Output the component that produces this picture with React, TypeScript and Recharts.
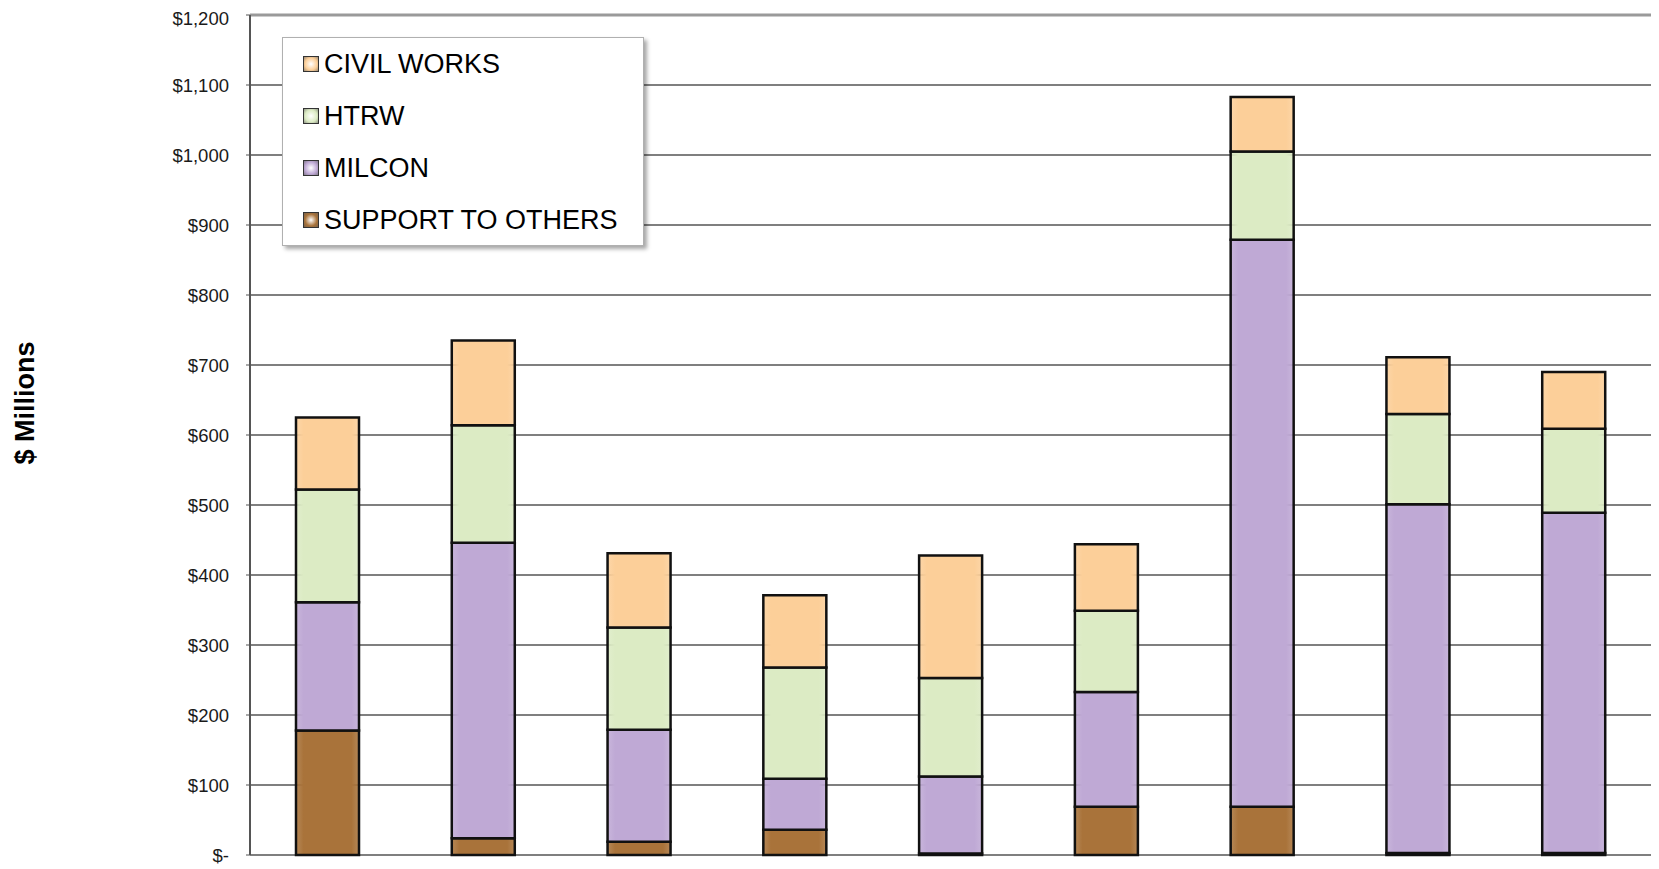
import React from "react";
import {
  BarChart,
  Bar,
  XAxis,
  YAxis,
  CartesianGrid,
  Legend,
  ReferenceLine,
  Label,
} from "recharts";

// categories (no labels shown on the original chart)
const categories = ["1", "2", "3", "4", "5", "6", "7", "8", "9"];

// $ millions
const supportToOthers = [178, 24, 19, 36, 2, 69, 69, 3, 3];
const milcon = [183, 422, 160, 73, 110, 164, 810, 498, 486];
const htrw = [161, 168, 146, 159, 141, 116, 126, 129, 120];
const civilWorks = [103, 121, 106, 103, 175, 95, 78, 81, 81];

const yTicks = [0, 100, 200, 300, 400, 500, 600, 700, 800, 900, 1000, 1100, 1200];

const series = [
  { key: "sto", name: "SUPPORT TO OTHERS", color: "#A9733A", values: supportToOthers },
  { key: "milcon", name: "MILCON", color: "#BFA9D5", values: milcon },
  { key: "htrw", name: "HTRW", color: "#DCEBC4", values: htrw },
  { key: "cw", name: "CIVIL WORKS", color: "#FCCF99", values: civilWorks },
];

const data = categories.map((name, i) => {
  const row: any = { name };
  series.forEach((s) => {
    row[s.key] = s.values[i];
  });
  return row;
});

const fmt = (v: number) => (v === 0 ? "$-" : "$" + v.toLocaleString("en-US"));

const renderLegend = () => (
  <div
    style={{
      background: "#fff",
      border: "1px solid #b0b0b0",
      boxShadow: "3px 3px 4px rgba(0,0,0,0.35)",
      width: 362,
      height: 209,
      boxSizing: "border-box",
      paddingTop: 0,
      paddingLeft: 20,
      fontFamily: "'Liberation Sans', Arial, sans-serif",
      fontSize: 27,
      color: "#000",
    }}
  >
    {[...series].reverse().map((s) => (
      <div key={s.key} style={{ display: "flex", alignItems: "center", height: 52 }}>
        <span
          style={{
            display: "inline-block",
            width: 14,
            height: 14,
            marginRight: 5,
            border: "1.5px solid #333",
            background: `radial-gradient(circle, #fff 0%, ${s.color} 60%, #555 130%)`,
          }}
        />
        <span>{s.name}</span>
      </div>
    ))}
  </div>
);

export default function App() {
  return (
    <BarChart
      width={1651}
      height={860}
      data={data}
      margin={{ top: 7, right: 7, left: 0, bottom: 13 }}
      style={{ fontFamily: "'Liberation Sans', Arial, sans-serif" }}
    >
      <defs>
        {series.map((s) => (
          <linearGradient key={s.key} id={"g-" + s.key} x1="0" y1="0" x2="1" y2="0">
            <stop offset="0%" stopColor={s.color} stopOpacity={0.85} />
            <stop offset="12%" stopColor={s.color} />
            <stop offset="88%" stopColor={s.color} />
            <stop offset="100%" stopColor={s.color} stopOpacity={0.85} />
          </linearGradient>
        ))}
      </defs>
      <CartesianGrid vertical={false} stroke="#000" strokeWidth={1.2} />
      <XAxis
        dataKey="name"
        tick={false}
        tickLine={false}
        height={0}
        axisLine={{ stroke: "#9a9a9a", strokeWidth: 3 }}
      />
      <YAxis
        width={242}
        domain={[0, 1200]}
        ticks={yTicks}
        tickFormatter={fmt}
        tickSize={4}
        tickMargin={17}
        axisLine={{ stroke: "#555", strokeWidth: 2 }}
        tickLine={{ stroke: "#555" }}
        tick={{ fill: "#1a1a1a", fontSize: 18.5 }}
      >
        <Label
          content={() => (
            <text
              x={17}
              y={395}
              transform="rotate(-90 17 395)"
              textAnchor="middle"
              dominantBaseline="central"
              fontSize={27}
              fontWeight="bold"
              fill="#000"
            >
              $ Millions
            </text>
          )}
        />
      </YAxis>
      <YAxis
        yAxisId="right"
        orientation="right"
        width={0}
        domain={[0, 1200]}
        tick={false}
        tickLine={false}
        axisLine={{ stroke: "#8e8e8e", strokeWidth: 4 }}
      />
      <ReferenceLine y={1200} stroke="#9a9a9a" strokeWidth={3} />
      <Legend
        layout="vertical"
        align="center"
        verticalAlign="middle"
        content={renderLegend}
        wrapperStyle={{ left: 274, top: 29, width: 362, height: 209 }}
      />
      {series.map((s) => (
        <Bar
          key={s.key}
          dataKey={s.key}
          name={s.name}
          stackId="a"
          barSize={63}
          fill={`url(#g-${s.key})`}
          stroke="#111"
          strokeWidth={2.5}
          isAnimationActive={false}
        />
      ))}
    </BarChart>
  );
}
